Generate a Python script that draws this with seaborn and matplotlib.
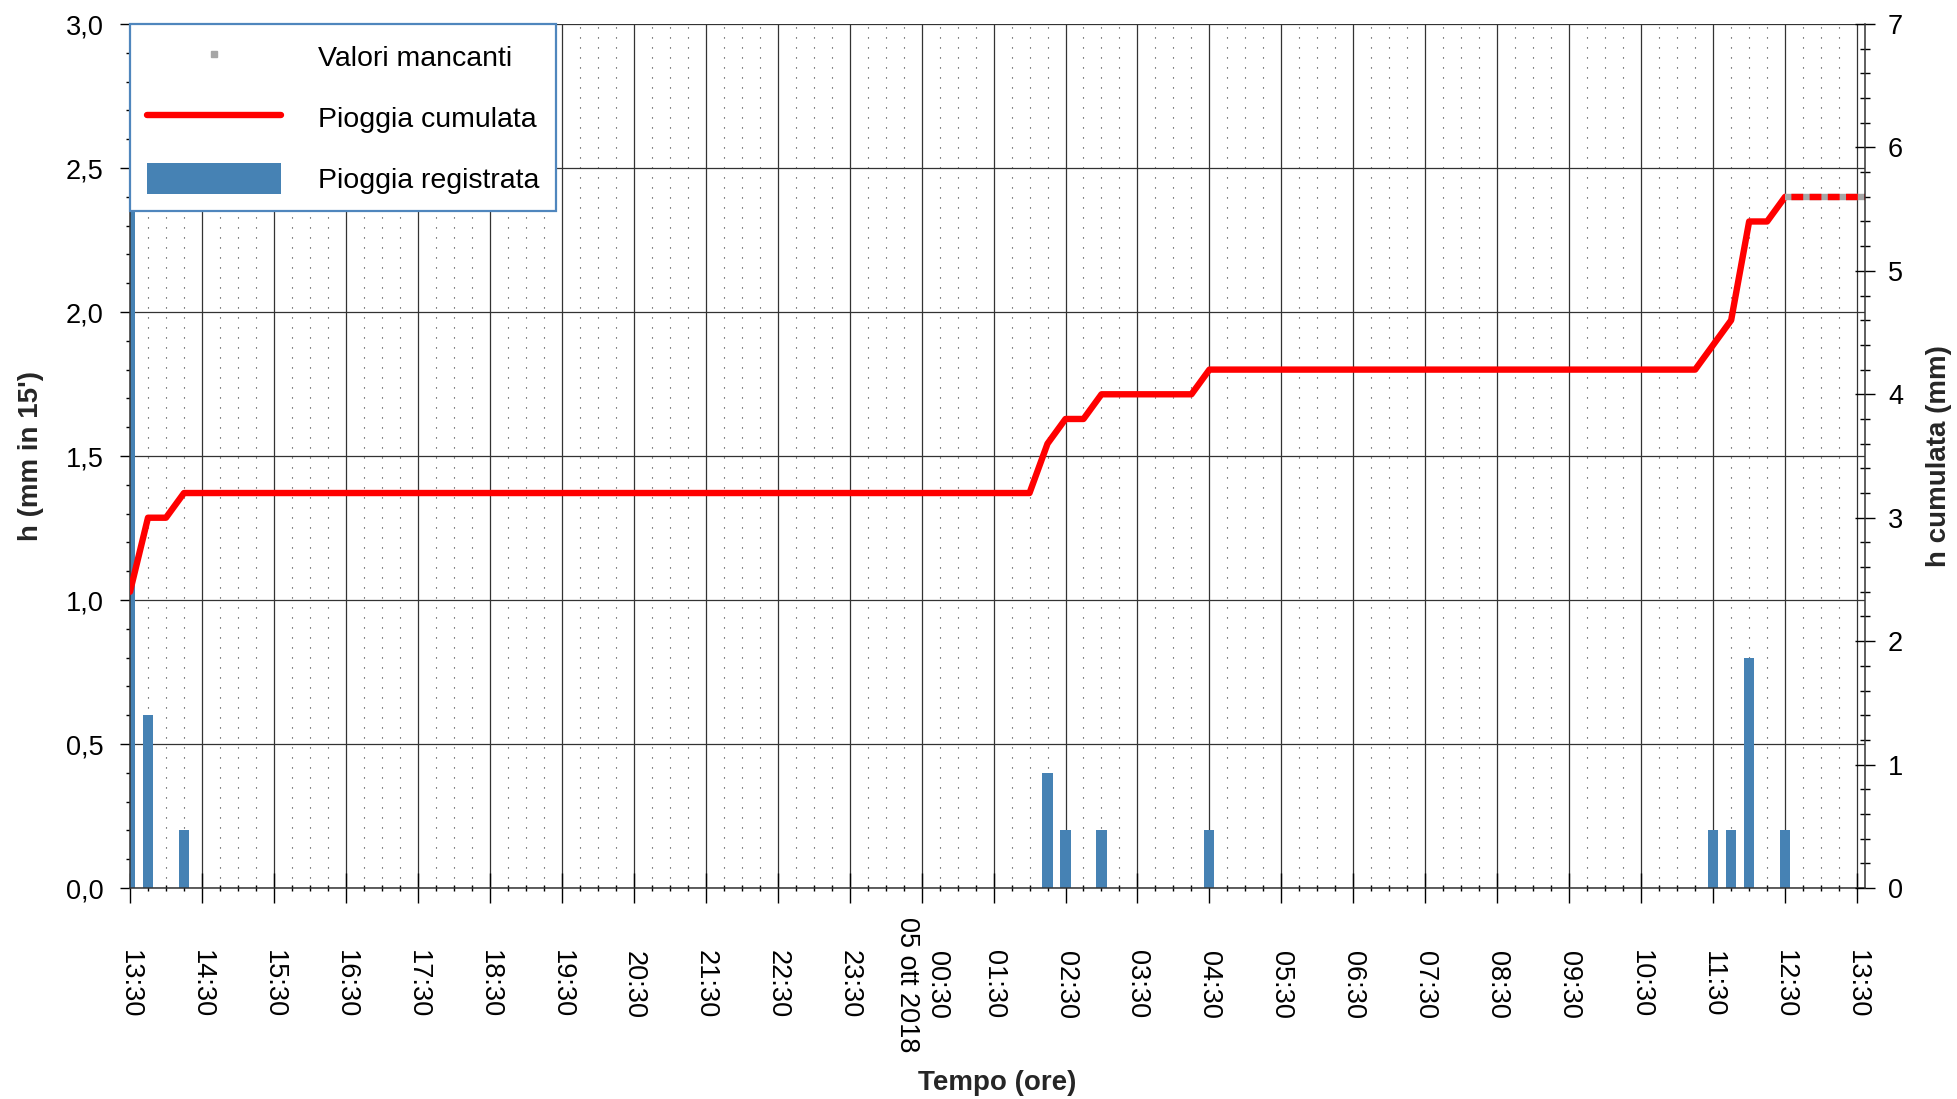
import matplotlib
matplotlib.use("Agg")
import numpy as np
import pandas as pd
import matplotlib.pyplot as plt
import seaborn as sns
from matplotlib.lines import Line2D
from matplotlib.patches import Patch
from matplotlib.ticker import MultipleLocator, FuncFormatter

# ore dopo le 13:30 del 04/10/2018
bar_hours = [0.0, 0.25, 0.75, 12.75, 13.0, 13.5, 15.0, 22.0, 22.25, 22.5, 23.0]
bar_mm = [2.4, 0.6, 0.2, 0.4, 0.2, 0.2, 0.2, 0.2, 0.2, 0.8, 0.2]

cum_hours = [0.0, 0.25, 0.5, 0.75, 12.5, 12.75, 13.0, 13.25, 13.5, 14.75, 15.0,
             21.75, 22.0, 22.25, 22.5, 22.75, 23.0]
cum_mm = [2.4, 3.0, 3.0, 3.2, 3.2, 3.6, 3.8, 3.8, 4.0, 4.0, 4.2,
          4.2, 4.4, 4.6, 5.4, 5.4, 5.6]

# valori mancanti dopo le 12:30
missing_hours = [23.0, 24.11]
missing_mm = [5.6, 5.6]

tick_labels = ["13:30", "14:30", "15:30", "16:30", "17:30", "18:30", "19:30",
               "20:30", "21:30", "22:30", "23:30", "00:30\n05 ott 2018",
               "01:30", "02:30", "03:30", "04:30", "05:30", "06:30", "07:30",
               "08:30", "09:30", "10:30", "11:30", "12:30", "13:30"]

BLUE = "#4682B4"
GRID = "#333333"

sns.set_style("white")
plt.rcParams["font.family"] = ["Liberation Sans", "DejaVu Sans"]
plt.rcParams["text.color"] = "black"
plt.rcParams["xtick.color"] = "black"
plt.rcParams["ytick.color"] = "black"

fig = plt.figure(figsize=(19.57, 10.99), dpi=100)
ax = fig.add_axes([130 / 1957, 211 / 1099, 1735 / 1957, 864 / 1099])

####################### barre #########################
bars_df = pd.DataFrame({"ore": bar_hours, "mm": bar_mm})
sns.barplot(data=bars_df, x="ore", y="mm", native_scale=True, width=0.56,
            color=BLUE, saturation=1, linewidth=0, errorbar=None, ax=ax)

ax.set_xlim(0, missing_hours[-1])
ax.set_ylim(0, 3.0)
ax.xaxis.set_minor_locator(MultipleLocator(0.25))
ax.set_xticks(range(len(tick_labels)))
ax.set_xticklabels(tick_labels)
ax.yaxis.set_major_locator(MultipleLocator(0.5))
ax.yaxis.set_minor_locator(MultipleLocator(0.1))
ax.yaxis.set_major_formatter(FuncFormatter(lambda v, p: f"{v:.1f}".replace(".", ",")))

ax.set_axisbelow(True)
ax.grid(which="major", axis="both", color=GRID, lw=0.9)
ax.grid(which="minor", axis="x", color="#333333", lw=0.8, linestyle=(0, (1, 8)))

ax.tick_params(axis="x", which="major", direction="inout", length=21, width=1,
               pad=59, labelsize=19.5)
ax.tick_params(axis="x", which="minor", direction="inout", length=4.5, width=1)
ax.tick_params(axis="y", which="major", direction="out", length=7, width=1,
               pad=12, labelsize=19.5, left=True)
ax.tick_params(axis="y", which="minor", direction="out", length=3, width=1, left=True)
ax.tick_params(axis="x", which="both", bottom=True)
plt.setp(ax.get_xticklabels(), rotation=-90, va="center", ha="center",
         multialignment="center")

for s in ["top", "right"]:
    ax.spines[s].set_visible(False)
for s in ["left", "bottom"]:
    ax.spines[s].set_color(GRID)
    ax.spines[s].set_linewidth(1.1)

ax.set_xlabel("Tempo (ore)", fontsize=20, fontweight="bold")
ax.xaxis.set_label_coords(0.5, -0.2257)
ax.xaxis.label.set_va("center")
ax.set_ylabel("h (mm in 15')", fontsize=20, fontweight="bold")
ax.yaxis.set_label_coords(-0.0571, 0.5)
ax.yaxis.label.set_va("center")

####################### pioggia cumulata #########################
ax2 = ax.twinx()
sns.lineplot(x=cum_hours, y=cum_mm, color="red", lw=4.6, estimator=None,
             sort=False, ax=ax2)
ax2.plot(missing_hours, missing_mm, color="#A6A6A6", lw=4.6, solid_capstyle="butt")
ax2.plot(missing_hours, missing_mm, color="red", lw=4.6,
         linestyle=(1.85, (1.85, 1.0)), dash_capstyle="butt")
ax2.set_xlim(0, missing_hours[-1])
ax2.set_ylim(0, 7)
ax2.yaxis.set_major_locator(MultipleLocator(1))
ax2.yaxis.set_minor_locator(MultipleLocator(0.2))
ax2.tick_params(axis="y", which="major", direction="inout", length=14, width=1,
                pad=9.5, labelsize=19.5, right=True)
ax2.tick_params(axis="y", which="minor", direction="inout", length=6.5, width=1, right=True)
for s in ["top", "left", "bottom"]:
    ax2.spines[s].set_visible(False)
ax2.spines["right"].set_color(GRID)
ax2.spines["right"].set_linewidth(1.1)
ax2.set_ylabel("h cumulata (mm)", fontsize=20, fontweight="bold", rotation=90)
ax2.yaxis.set_label_coords(1.0427, 0.5)
ax2.yaxis.label.set_va("center")

####################### legenda #########################
handles = [
    Line2D([], [], marker="s", color="#A6A6A6", markersize=5, linestyle="None"),
    Line2D([], [], color="red", lw=4.6),
    Patch(facecolor=BLUE, edgecolor="none"),
]
labels = ["Valori mancanti", "Pioggia cumulata", "Pioggia registrata"]
leg = ax2.legend(handles, labels, loc="upper left", bbox_to_anchor=(0, 1),
                 borderaxespad=0, fontsize=20.5, handlelength=4.7, handleheight=1.3,
                 handletextpad=1.3, labelspacing=1.05, borderpad=0.6,
                 fancybox=False, framealpha=1, edgecolor="#4f86bd")
leg.get_frame().set_linewidth(1.6)

fig.savefig("out.png", dpi=100)
